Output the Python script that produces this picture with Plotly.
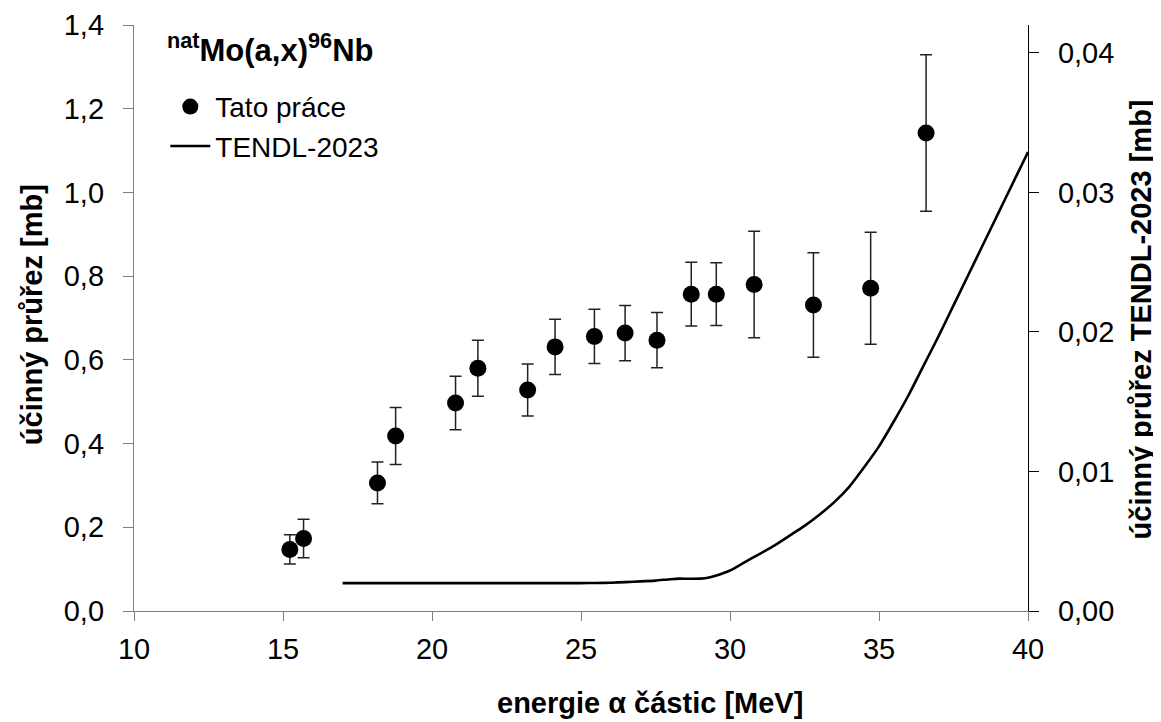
import plotly.graph_objects as go

# Experimental data (this work)
energy = [15.23, 15.69, 18.17, 18.78, 20.79, 21.54, 23.21, 24.13, 25.45, 26.48,
          27.55, 28.70, 29.54, 30.81, 32.80, 34.72, 36.58]
xs = [0.147, 0.173, 0.306, 0.418, 0.497, 0.580, 0.528, 0.631, 0.656, 0.664,
      0.647, 0.757, 0.757, 0.780, 0.731, 0.771, 1.142]
xs_err = [0.035, 0.046, 0.050, 0.068, 0.064, 0.067, 0.062, 0.066, 0.065, 0.066,
          0.066, 0.076, 0.075, 0.127, 0.125, 0.134, 0.187]

# TENDL-2023 (right axis)
tendl_e = [17, 18, 19, 20, 21, 22, 23, 24, 25, 25.5, 26, 26.5, 27, 27.5, 28, 28.3,
           28.6, 29, 29.3, 29.6, 30, 30.5, 31, 31.5, 32, 32.5, 33, 33.5, 34, 34.5,
           35, 35.5, 36, 36.5, 37, 37.5, 38, 38.5, 39, 39.5, 40]
tendl_xs = [0.0020, 0.0020, 0.0020, 0.0020, 0.0020, 0.0020, 0.0020, 0.0020, 0.0020,
            0.00201, 0.00203, 0.00207, 0.00212, 0.00218, 0.00228, 0.00232, 0.00231,
            0.00232, 0.00240, 0.00258, 0.0029, 0.0035, 0.0041, 0.0047, 0.0054,
            0.0061, 0.0069, 0.0078, 0.0089, 0.0103, 0.0118, 0.0136, 0.0155, 0.0176,
            0.0197, 0.0219, 0.0241, 0.0263, 0.0285, 0.0307, 0.0329]

x_ticks = [10, 15, 20, 25, 30, 35, 40]

FONT = "Liberation Sans, Arial, sans-serif"

fig = go.Figure()
fig.add_trace(go.Scatter(
    x=energy, y=xs, mode="markers", name="Tato práce", legendgroup="a",
    marker=dict(color="black", size=17),
    error_y=dict(type="data", array=xs_err, visible=True, color="#222222",
                 thickness=1.5, width=6),
))
fig.add_trace(go.Scatter(
    x=tendl_e, y=tendl_xs, mode="lines", name="TENDL-2023", legendgroup="b",
    yaxis="y2", line=dict(color="black", width=2.6, shape="spline", smoothing=0.6),
))

fig.update_layout(
    width=1153, height=714,
    margin=dict(l=126, r=133, t=17, b=111, autoexpand=False),
    paper_bgcolor="white", plot_bgcolor="white",
    separators=", ",
    font=dict(family=FONT, size=29, color="black"),
    showlegend=True,
    legend=dict(x=0.035, y=0.903, xanchor="left", yanchor="top",
                font=dict(size=28, family=FONT), bgcolor="rgba(0,0,0,0)",
                tracegroupgap=0, traceorder="grouped", itemwidth=40),
    xaxis=dict(range=[10, 40], tickvals=x_ticks, showgrid=False, zeroline=False,
               automargin=False,
               showline=True, linecolor="#7f7f7f", linewidth=1.3,
               ticks="outside", ticklen=9, tickcolor="#7f7f7f",
               ticklabelstandoff=3, tickfont=dict(size=29)),
    yaxis=dict(range=[0, 1.4], dtick=0.2, tickformat=".1f", showgrid=False,
               automargin=False,
               zeroline=False, showline=True, linecolor="#7f7f7f", linewidth=1.3,
               ticks="outside", ticklen=10, tickcolor="#7f7f7f",
               ticklabelstandoff=13, tickfont=dict(size=29)),
    yaxis2=dict(range=[0, 0.042], dtick=0.01, tickformat=".2f", overlaying="y",
                automargin=False,
                side="right", anchor="x", showgrid=False, zeroline=False,
                showline=True, linecolor="black", linewidth=1.3,
                ticks="outside", ticklen=10, tickcolor="black",
                ticklabelstandoff=13, tickfont=dict(size=29)),
    annotations=[
        dict(text="<b><sup>nat</sup>Mo(a,x)<sup>96</sup>Nb</b>", xref="paper", yref="paper",
             x=0.0347, y=0.961, xanchor="left", yanchor="middle", showarrow=False,
             font=dict(size=31, family=FONT)),
        dict(text="<b>energie α částic [MeV]</b>", xref="paper", yref="paper",
             x=0.577, y=-0.157, xanchor="center", yanchor="middle", showarrow=False,
             font=dict(size=29, family=FONT)),
        dict(text="<b>účinný průřez [mb]</b>", xref="paper", yref="paper",
             x=-0.114, y=0.505, xanchor="center", yanchor="middle", showarrow=False,
             textangle=-90, font=dict(size=29, family=FONT)),
        dict(text="<b>účinný průřez TENDL-2023 [mb]</b>", xref="paper", yref="paper",
             x=1.126, y=0.497, xanchor="center", yanchor="middle", showarrow=False,
             textangle=-90, font=dict(size=29, family=FONT)),
    ],
)

fig.write_html("out.html")
